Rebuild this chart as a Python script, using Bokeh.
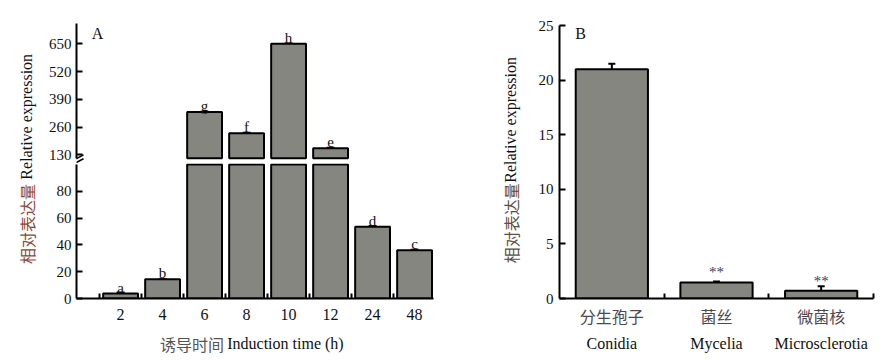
import math
from bokeh.plotting import figure
from bokeh.layouts import row, column
from bokeh.models import (Range1d, FixedTicker, Label, LinearAxis, Whisker,
                          ColumnDataSource, TeeHead)
from bokeh.core.properties import value
from bokeh.embed import file_html
from bokeh.resources import INLINE

# ---------------- data ----------------
# Panel A: induction time course
times = ["2", "4", "6", "8", "10", "12", "24", "48"]
expr_a = [3.7, 14.3, 330, 231, 650, 161, 53.5, 36]
err_a = [0.9, 0.3, 3, 3, 3, 3, 0.8, 0.6]
letters_a = ["a", "b", "g", "f", "h", "e", "d", "c"]
top_ticks = [130, 260, 390, 520, 650]
bottom_ticks = [0, 20, 40, 60, 80]
break_low = 100    # upper limit of lower axis segment
break_high = 114   # base of upper axis segment

# Panel B: developmental stages
tissues_cn = ["分生孢子", "菌丝", "微菌核"]
tissues_en = ["Conidia", "Mycelia", "Microsclerotia"]
expr_b = [21.0, 1.47, 0.72]
err_b = [0.5, 0.08, 0.4]
sig_b = ["", "**", "**"]
b_ticks = [0, 5, 10, 15, 20, 25]

# ---------------- style ----------------
SERIF = "Liberation Serif"
CJK = "Noto Sans CJK SC"
BAR_FILL = "#868681"
INK = "#111111"
H = 356
CJK_ROT_FIX = 43   # rotated labels render higher than their anchor
EN_ROT_FIX = 20


def base_fig(**kw):
    p = figure(output_backend="svg", toolbar_location=None, **kw)
    p.grid.visible = False
    p.outline_line_color = None
    p.background_fill_color = "white"
    p.border_fill_color = "white"
    return p


def style_axis(ax, size="15px", font=SERIF, color=INK):
    ax.axis_line_color = "black"
    ax.axis_line_width = 2
    ax.major_tick_line_color = "black"
    ax.major_tick_line_width = 2
    ax.major_tick_in = 6
    ax.major_tick_out = 0
    ax.minor_tick_line_color = None
    ax.major_label_text_font = font
    ax.major_label_text_font_size = size
    ax.major_label_text_color = color


def label_fig(w, h):
    return base_fig(width=w, height=h, x_range=Range1d(0, w), y_range=Range1d(0, h),
                    x_axis_location=None, y_axis_location=None, min_border=0)


def tee(size=8, lw=1.5):
    return TeeHead(size=size, line_width=lw, line_color="black")


def add_break(p, y_edge, shift_px, ux, uy):
    """two short slanted strokes crossing the y axis near the segment edge"""
    x0 = p.x_range.start
    for off in (-1.9, 1.9):
        c = shift_px + off
        p.segment(x0=x0 - 7 * ux, y0=y_edge + (c - 3.7) * uy,
                  x1=x0 + 7 * ux, y1=y_edge + (c + 3.7) * uy,
                  line_color="black", line_width=1.6)


# ---------------- Panel A ----------------
xpos = list(range(1, len(times) + 1))
x_range_a = Range1d(-0.05, len(times) + 0.45)
A_W, A_LEFT, A_RIGHT = 450, 36, 57
ux_a = (x_range_a.end - x_range_a.start) / (A_W - A_LEFT - A_RIGHT)

top_idx = [i for i, v in enumerate(expr_a) if v > break_low]
bot_idx = [i for i, v in enumerate(expr_a) if v <= break_low]

src_top = ColumnDataSource(dict(
    x=[xpos[i] for i in top_idx],
    top=[expr_a[i] for i in top_idx],
    upper=[expr_a[i] + err_a[i] for i in top_idx],
    lower=[expr_a[i] - err_a[i] for i in top_idx],
    label=[letters_a[i] for i in top_idx],
))
src_bot_all = ColumnDataSource(dict(
    x=xpos,
    top=[min(v, break_low) for v in expr_a],
))
src_bot = ColumnDataSource(dict(
    x=[xpos[i] for i in bot_idx],
    top=[expr_a[i] for i in bot_idx],
    upper=[expr_a[i] + err_a[i] for i in bot_idx],
    lower=[expr_a[i] - err_a[i] for i in bot_idx],
    label=[letters_a[i] for i in bot_idx],
))

# upper segment
TOP_H, TOP_T = 163, 23
yr_top = Range1d(89.1, 745)
uy_top = (yr_top.end - yr_top.start) / (TOP_H - TOP_T)
pa_top = base_fig(width=A_W, height=TOP_H, x_range=x_range_a,
                  y_range=yr_top, x_axis_location=None,
                  min_border_left=A_LEFT, min_border_right=A_RIGHT,
                  min_border_top=TOP_T, min_border_bottom=0)
pa_top.vbar(x="x", top="top", bottom=break_high, width=0.83, source=src_top,
            fill_color=BAR_FILL, line_color="black", line_width=2)
pa_top.add_layout(Whisker(source=src_top, base="x", upper="upper", lower="lower",
                          line_color="black", line_width=1.5,
                          upper_head=tee(), lower_head=tee()))
pa_top.text(x="x", y="top", text="label", source=src_top, text_align="center",
            text_baseline="alphabetic", y_offset=-6, text_font=value(SERIF),
            text_font_size="15px", text_color=INK)
ya_top = pa_top.yaxis[0]
ya_top.ticker = FixedTicker(ticks=top_ticks)
style_axis(ya_top)
ya_top.major_label_standoff = 5
ya_top.bounds = (break_high, yr_top.end)
pa_top.add_layout(Label(x=21, y=130, x_units="screen", y_units="screen", text="A",
                        text_align="center", text_baseline="middle",
                        text_font=SERIF, text_font_size="16px", text_color=INK))
add_break(pa_top, yr_top.start, 3, ux_a, uy_top)

# lower segment
BOT_H, BOT_B = 165, 30
yr_bot = Range1d(0, 100.75)
uy_bot = (yr_bot.end - yr_bot.start) / (BOT_H - BOT_B)
pa_bot = base_fig(width=A_W, height=BOT_H, x_range=x_range_a,
                  y_range=yr_bot,
                  min_border_left=A_LEFT, min_border_right=A_RIGHT,
                  min_border_top=0, min_border_bottom=BOT_B)
pa_bot.vbar(x="x", top="top", bottom=0, width=0.83, source=src_bot_all,
            fill_color=BAR_FILL, line_color="black", line_width=2)
pa_bot.add_layout(Whisker(source=src_bot, base="x", upper="upper", lower="lower",
                          line_color="black", line_width=1.5,
                          upper_head=tee(), lower_head=tee()))
pa_bot.text(x="x", y="top", text="label", source=src_bot, text_align="center",
            text_baseline="alphabetic", y_offset=-6, text_font=value(SERIF),
            text_font_size="15px", text_color=INK)
ya_bot = pa_bot.yaxis[0]
ya_bot.ticker = FixedTicker(ticks=bottom_ticks)
style_axis(ya_bot)
ya_bot.major_label_standoff = 5
ya_bot.bounds = (0, break_low)

xa = pa_bot.xaxis[0]
xa.ticker = FixedTicker(ticks=xpos, minor_ticks=[p - 0.5 for p in xpos])
style_axis(xa, size="16px")
xa.major_tick_line_color = None
xa.major_tick_in = 0
xa.major_tick_out = 0
xa.minor_tick_line_color = "black"
xa.minor_tick_line_width = 2
xa.minor_tick_in = 5
xa.minor_tick_out = 0
xa.major_label_standoff = 10
xa.major_label_overrides = {p: t for p, t in zip(xpos, times)}
add_break(pa_bot, yr_bot.end, 3, ux_a, uy_bot)

# x title for panel A
XLAB_H = H - TOP_H - BOT_H
pa_xlab = label_fig(A_W, XLAB_H)
pa_xlab.add_layout(Label(x=186, y=XLAB_H - 15, text="诱导时间",
                         text_align="right", text_baseline="middle",
                         text_font=CJK, text_font_size="16px", text_color="#555555"))
pa_xlab.add_layout(Label(x=190, y=XLAB_H - 15, text="Induction time (h)",
                         text_align="left", text_baseline="middle",
                         text_font=SERIF, text_font_size="16px", text_color=INK))

# y title for panel A (text runs upward from its anchor)
pa_lab = label_fig(40, H)
pa_lab.add_layout(Label(x=26, y=H - 268 - CJK_ROT_FIX, text="相对表达量",
                        angle=math.pi / 2, text_align="left", text_baseline="middle",
                        text_font=CJK, text_font_size="16px", text_color="#8a4a3a"))
pa_lab.add_layout(Label(x=26, y=H - 181 - EN_ROT_FIX, text="Relative expression",
                        angle=math.pi / 2, text_align="left", text_baseline="middle",
                        text_font=SERIF, text_font_size="16px", text_color=INK))

# ---------------- Panel B ----------------
bpos = list(range(len(tissues_en)))
src_b = ColumnDataSource(dict(
    x=bpos, top=expr_b,
    upper=[v + e for v, e in zip(expr_b, err_b)],
    lower=[v - e for v, e in zip(expr_b, err_b)],
    sig=sig_b,
))
pb = base_fig(width=346, height=H, x_range=Range1d(-0.5, len(bpos) - 0.5),
              y_range=Range1d(0, 25),
              min_border_left=29, min_border_right=3,
              min_border_top=25, min_border_bottom=H - 25 - 273)
pb.vbar(x="x", top="top", bottom=0, width=0.69, source=src_b,
        fill_color=BAR_FILL, line_color="black", line_width=2)
pb.add_layout(Whisker(source=src_b, base="x", upper="upper", lower="lower",
                      line_color="black", line_width=2,
                      upper_head=tee(7, 2), lower_head=tee(7, 2)))
pb.text(x="x", y="top", text="sig", source=src_b, text_align="center",
        text_baseline="bottom", y_offset=-2, text_font=value(SERIF),
        text_font_size="15px", text_color="#3b3b5c")
pb.yaxis.ticker = FixedTicker(ticks=b_ticks)
style_axis(pb.yaxis[0])
pb.yaxis.major_label_standoff = 6

xb = pb.xaxis[0]
xb.ticker = FixedTicker(ticks=bpos, minor_ticks=[p + 0.5 for p in bpos])
style_axis(xb, size="16px", font=CJK, color="#4d4850")
xb.major_tick_line_color = None
xb.major_tick_in = 0
xb.major_tick_out = 0
xb.minor_tick_line_color = "black"
xb.minor_tick_line_width = 2
xb.minor_tick_in = 5
xb.minor_tick_out = 0
xb.major_label_standoff = 5
xb.major_label_overrides = {p: t for p, t in zip(bpos, tissues_cn)}

xb2 = LinearAxis(ticker=FixedTicker(ticks=bpos))
xb2.axis_line_color = None
xb2.major_tick_line_color = None
xb2.minor_tick_line_color = None
xb2.major_tick_in = 0
xb2.major_tick_out = 0
xb2.major_label_standoff = 4
xb2.major_label_text_font = SERIF
xb2.major_label_text_font_size = "16px"
xb2.major_label_text_color = INK
xb2.major_label_overrides = {p: t for p, t in zip(bpos, tissues_en)}
pb.add_layout(xb2, "below")

pb.add_layout(Label(x=21, y=265, x_units="screen", y_units="screen", text="B",
                    text_align="center", text_baseline="middle",
                    text_font=SERIF, text_font_size="16px", text_color=INK))

# y title for panel B (text runs upward from its anchor)
pb_lab = label_fig(40, H)
pb_lab.add_layout(Label(x=20, y=H - 267 - CJK_ROT_FIX, text="相对表达量",
                        angle=math.pi / 2, text_align="left", text_baseline="middle",
                        text_font=CJK, text_font_size="16px", text_color="#5b4f45"))
pb_lab.add_layout(Label(x=20, y=H - 185 - EN_ROT_FIX, text="Relative expression",
                        angle=math.pi / 2, text_align="left", text_baseline="middle",
                        text_font=SERIF, text_font_size="16px", text_color=INK))

layout = row(pa_lab, column(pa_top, pa_bot, pa_xlab), pb_lab, pb)
open("out.html", "w").write(file_html(layout, INLINE))
